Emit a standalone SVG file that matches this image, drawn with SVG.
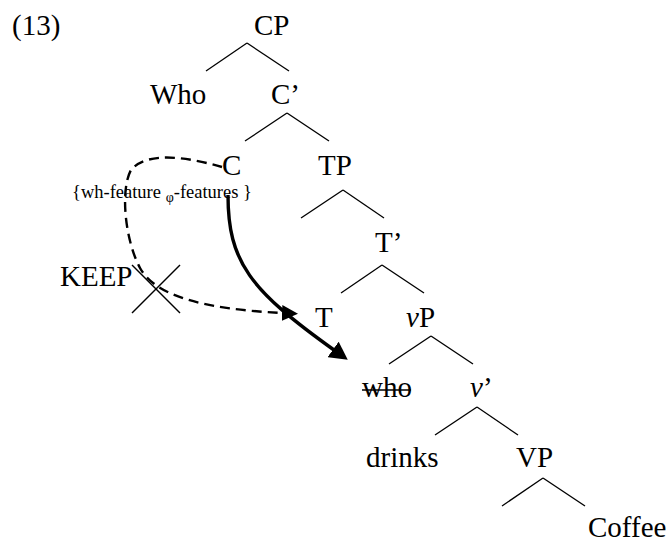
<svg xmlns="http://www.w3.org/2000/svg" width="669" height="542" viewBox="0 0 669 542">
<style>
text{font-family:"Liberation Serif","Times New Roman",serif;font-size:29px;fill:#000}
.sm{font-size:18.5px}
.tree line{stroke:#000;stroke-width:1.3;fill:none}
.dash{stroke:#000;stroke-width:2.4;fill:none;stroke-dasharray:10 6}
.thick{stroke:#000;stroke-width:3.4;fill:none}
.x{stroke:#000;stroke-width:1.4}
</style>
<defs>
<marker id="ah1" markerUnits="userSpaceOnUse" markerWidth="17" markerHeight="17" refX="1" refY="8" orient="auto" viewBox="0 0 17 16"><path d="M0,0 L16,8 L0,16 z" fill="#000"/></marker>
<marker id="ah2" markerUnits="userSpaceOnUse" markerWidth="19" markerHeight="19" refX="1" refY="9" orient="auto" viewBox="0 0 18 18"><path d="M0,0 L17,9 L0,18 z" fill="#000"/></marker>
</defs>
<rect width="669" height="542" fill="#fff"/>
<text x="12" y="35">(13)</text>
<g class="tree" id="branches">
<line x1="247" y1="43" x2="206" y2="71"/><line x1="247" y1="43" x2="289" y2="71"/>
<line x1="287" y1="113" x2="245" y2="141"/><line x1="287" y1="113" x2="329" y2="141"/>
<line x1="343" y1="190" x2="301" y2="218"/><line x1="343" y1="190" x2="384" y2="218"/>
<line x1="382" y1="265" x2="341" y2="293"/><line x1="382" y1="265" x2="424" y2="293"/>
<line x1="431" y1="336" x2="389" y2="364"/><line x1="431" y1="336" x2="473" y2="364"/>
<line x1="477" y1="407" x2="435" y2="435"/><line x1="477" y1="407" x2="518" y2="435"/>
<line x1="543" y1="478" x2="502" y2="506"/><line x1="543" y1="478" x2="585" y2="506"/>
</g>
<g id="n-CP"><text x="254" y="35">CP</text></g>
<g id="n-Who"><text x="150" y="104">Who</text></g>
<g id="n-Cbar"><text x="271" y="104">C’</text></g>
<g id="n-C"><text x="222" y="175">C</text></g>
<g id="n-features"><text class="sm" x="72" y="198">{wh-feature <tspan font-size="14" dy="4">φ</tspan><tspan dy="-4">-features }</tspan></text></g>
<g id="n-TP"><text x="318" y="175">TP</text></g>
<g id="n-Tbar"><text x="375" y="252">T’</text></g>
<g id="n-T"><text x="315" y="327">T</text></g>
<g id="n-vP"><text x="406" y="327"><tspan font-style="italic">v</tspan>P</text></g>
<g id="n-who"><text x="362" y="397">who</text><line x1="362" y1="390" x2="411" y2="390" stroke="#000" stroke-width="1.6"/></g>
<g id="n-vbar"><text x="470" y="397"><tspan font-style="italic">v</tspan>’</text></g>
<g id="n-drinks"><text x="366" y="467">drinks</text></g>
<g id="n-VP"><text x="516" y="467">VP</text></g>
<g id="n-Coffee"><text x="588" y="537">Coffee</text></g>
<g id="n-KEEP"><text x="60" y="286">KEEP</text></g>
<g id="connectors">
<path class="dash" d="M222,167 C190,158 148,150 131,170 C120,190 125,240 140,268 C155,295 200,309 283,313" marker-end="url(#ah1)"/>
<path class="thick" d="M228,195 C228,262 250,290 334,350" marker-end="url(#ah2)"/>
<line class="x" x1="132" y1="265" x2="180" y2="313"/>
<line class="x" x1="180" y1="265" x2="132" y2="313"/>
</g>
</svg>
